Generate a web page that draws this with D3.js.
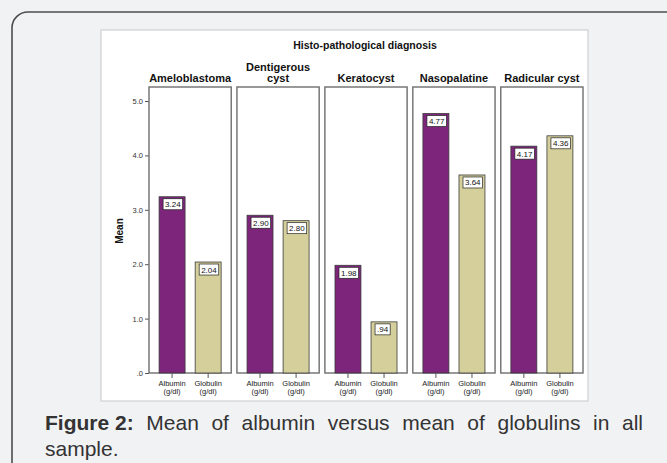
<!DOCTYPE html>
<html>
<head>
<meta charset="utf-8">
<script src="https://cdn.jsdelivr.net/npm/d3@7"></script>
<style>
  html, body { margin: 0; padding: 0; background: #f1f2f4; }
  svg { display: block; font-family: "Liberation Sans", Arial, sans-serif; }
</style>
</head>
<body>
<div id="chart"></div>
<script>
// chart data
var diagnoses = ["Ameloblastoma", "Dentigerous\ncyst", "Keratocyst", "Nasopalatine", "Radicular cyst"];
var measures = ["Albumin\n(g/dl)", "Globulin\n(g/dl)"];
var albumin = [3.24, 2.90, 1.98, 4.77, 4.17];
var globulin = [2.04, 2.80, 0.94, 3.64, 4.36];
var yTicks = [0, 1, 2, 3, 4, 5];

var width = 667, height = 463;
var colors = ["#7c257b", "#d5d09b"];

var svg = d3.select("#chart")
   .append("svg")
   .attr("width", width)
   .attr("height", height);

// page background and card outline
svg.append("rect").attr("width", width).attr("height", height).attr("fill", "#f1f2f4");
svg.append("path")
   .attr("d", "M12,470 L12,28 A16,16 0 0 1 28,12 L680,12")
   .attr("fill", "none")
   .attr("stroke", "#4d4d4d")
   .attr("stroke-width", 1.6);

// white chart image
svg.append("rect")
   .attr("x", 101).attr("y", 30)
   .attr("width", 487).attr("height", 371)
   .attr("fill", "#fff")
   .attr("stroke", "#c8c8c8");

svg.append("text")
   .attr("x", 365).attr("y", 49)
   .attr("text-anchor", "middle")
   .attr("font-size", 10.5)
   .attr("font-weight", "bold")
   .attr("fill", "#111")
   .text("Histo-pathological diagnosis");

// scales
var y = d3.scaleLinear().domain([0, 5]).range([373, 101]);
var panelTop = 87;

var xPanel = d3.scaleBand()
   .domain(diagnoses)
   .range([149, 583])
   .paddingInner(0.065);

var xBar = d3.scaleBand()
   .domain(measures)
   .range([0, xPanel.bandwidth()])
   .paddingInner(0.28)
   .paddingOuter(0.28);

var fmt = function (v) {
   var s = d3.format(".2f")(v);
   return v < 1 ? s.replace(/^0/, "") : s;
};

// y axis
var yAxis = svg.append("g")
   .attr("transform", "translate(149,0)")
   .call(d3.axisLeft(y)
      .tickValues(yTicks)
      .tickSize(4)
      .tickPadding(2)
      .tickFormat(function (d) { return d3.format(".1f")(d).replace(/^0/, ""); }));
yAxis.select(".domain").remove();
yAxis.selectAll("line").attr("stroke", "#555");
yAxis.selectAll("text")
   .attr("font-size", 7.5)
   .attr("font-family", "'Liberation Sans', Arial, sans-serif")
   .attr("fill", "#333");

svg.append("text")
   .attr("transform", "translate(123,231) rotate(-90)")
   .attr("text-anchor", "middle")
   .attr("font-size", 10)
   .attr("font-weight", "bold")
   .attr("fill", "#111")
   .text("Mean");

// panels
var panels = svg.selectAll(".panel")
   .data(diagnoses.map(function (d, i) { return { name: d, values: [albumin[i], globulin[i]] }; }))
   .enter()
   .append("g")
   .attr("class", "panel")
   .attr("transform", function (d) { return "translate(" + xPanel(d.name) + ",0)"; });

// header labels
panels.each(function (d) {
   var lines = d.name.split("\n");
   var g = d3.select(this);
   lines.forEach(function (line, k) {
      g.append("text")
         .attr("x", xPanel.bandwidth() / 2)
         .attr("y", 82 - (lines.length - 1 - k) * 11.5)
         .attr("text-anchor", "middle")
         .attr("font-size", 11)
         .attr("font-weight", "bold")
         .attr("fill", "#111")
         .text(line);
   });
});

panels.append("rect")
   .attr("x", 0)
   .attr("y", panelTop)
   .attr("width", xPanel.bandwidth())
   .attr("height", y(0) - panelTop)
   .attr("fill", "none")
   .attr("stroke", "#6e6e6e")
   .attr("stroke-width", 1.4);

var bars = panels.selectAll(".bar")
   .data(function (d) { return d.values.map(function (v, j) { return { m: measures[j], v: v, j: j }; }); })
   .enter()
   .append("g")
   .attr("class", "bar");

bars.append("rect")
   .attr("x", function (d) { return xBar(d.m); })
   .attr("y", function (d) { return y(d.v); })
   .attr("width", xBar.bandwidth())
   .attr("height", function (d) { return y(0) - y(d.v); })
   .attr("fill", function (d) { return colors[d.j]; })
   .attr("stroke", "#3a3a3a")
   .attr("stroke-width", 0.8);

// value label boxes
bars.each(function (d) {
   var g = d3.select(this);
   var bx = xBar(d.m) + 4, by = y(d.v) + 2;
   var box = g.append("rect")
      .attr("x", bx).attr("y", by)
      .attr("height", 11)
      .attr("fill", "#fff")
      .attr("stroke", "#222")
      .attr("stroke-width", 0.7);
   var t = g.append("text")
      .attr("x", bx + 2).attr("y", by + 8.5)
      .attr("font-size", 8)
      .attr("fill", "#111")
      .text(fmt(d.v));
   box.attr("width", t.node().getComputedTextLength() + 4);
});

// x ticks and labels
bars.append("line")
   .attr("x1", function (d) { return xBar(d.m) + xBar.bandwidth() / 2; })
   .attr("x2", function (d) { return xBar(d.m) + xBar.bandwidth() / 2; })
   .attr("y1", y(0))
   .attr("y2", y(0) + 5)
   .attr("stroke", "#555");

bars.each(function (d) {
   var g = d3.select(this);
   d.m.split("\n").forEach(function (line, k) {
      g.append("text")
         .attr("x", xBar(d.m) + xBar.bandwidth() / 2)
         .attr("y", 386 + k * 8)
         .attr("text-anchor", "middle")
         .attr("font-size", 7.5)
         .attr("fill", "#222")
         .text(line);
   });
});

// caption, first line justified
var words = ["Mean", "of", "albumin", "versus", "mean", "of", "globulins", "in", "all"];
var capLeft = 45, capRight = 643, capSize = 21;
var cap = svg.append("g").attr("font-size", capSize).attr("fill", "#333");
var first = cap.append("text")
   .attr("x", capLeft).attr("y", 430)
   .attr("font-weight", "bold")
   .text("Figure 2:");
var items = [first];
words.forEach(function (w) {
   items.push(cap.append("text").attr("y", 430).text(w));
});
var widths = items.map(function (t) { return t.node().getComputedTextLength(); });
var gap = (capRight - capLeft - d3.sum(widths)) / (items.length - 1);
var cx = capLeft;
items.forEach(function (t, i) {
   t.attr("x", cx);
   cx += widths[i] + gap;
});
cap.append("text")
   .attr("x", capLeft).attr("y", 456)
   .text("sample.");
</script>
</body>
</html>
